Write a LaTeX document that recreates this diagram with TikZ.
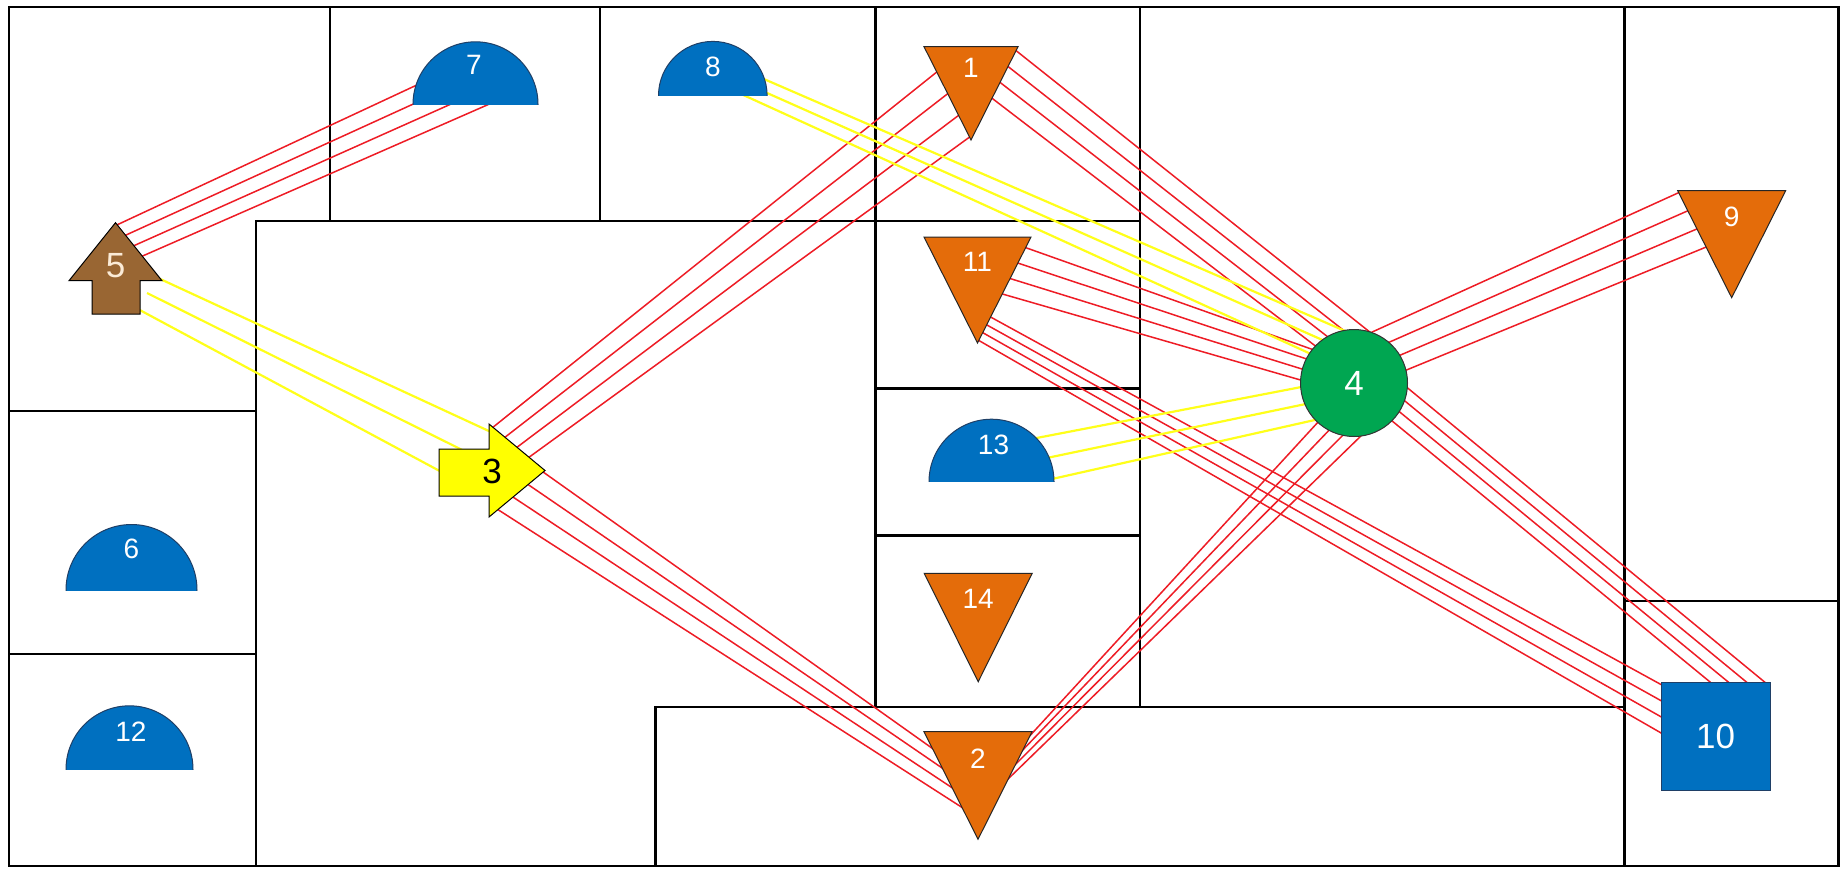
\documentclass[tikz,border=0pt]{standalone}
\usepackage{fontspec}
\setmainfont{Liberation Sans}
\usetikzlibrary{calc}

\definecolor{devblue}{HTML}{0070C0}
\definecolor{devblueline}{HTML}{1F3F66}
\definecolor{devorange}{HTML}{E46C0A}
\definecolor{devgreen}{HTML}{00A651}
\definecolor{devbrown}{HTML}{996633}
\definecolor{devyellow}{HTML}{FFFF00}
\definecolor{linkred}{HTML}{EE1C25}
\definecolor{linkyellow}{HTML}{FFFF1A}
\definecolor{tagcream}{HTML}{FBEBD7}

\pgfdeclarelayer{paper}
\pgfdeclarelayer{walls}
\pgfdeclarelayer{links}
\pgfsetlayers{paper,walls,links,main}

% A set of parallel cable runs between two devices.
% #1 style, #2 fractions, #3 node A, #4/#5 first/last offset at A,
% #6 node B, #7/#8 first/last offset at B
\newcommand\linkset[8]{%
  \path ($(#3)+(#4)$) coordinate (la1) ($(#3)+(#5)$) coordinate (la2)
        ($(#6)+(#7)$) coordinate (lb1) ($(#6)+(#8)$) coordinate (lb2);
  \foreach \lk in {#2} {\draw[#1] ($(la1)!\lk!(la2)$) -- ($(lb1)!\lk!(lb2)$);}%
}
% Half disk sitting on the bottom edge of its anchor box
\newcommand\halfdisk[2]{%
  \begin{scope}
    \clip ($(#1.south west)+(-3,0)$) rectangle ($(#1.north east)+(3,-3)$);
    \path[bluefill] (#1.south) circle[radius=#2];
  \end{scope}}

\begin{document}
\begin{tikzpicture}[x=0.5pt,y=-0.5pt,
  wall/.style={draw=black, line width=1.2pt, line cap=rect},
  redlink/.style={draw=linkred, line width=0.75pt},
  yellink/.style={draw=linkyellow, line width=1.1pt},
  anchorbox/.style={rectangle, inner sep=0pt, outer sep=0pt, draw=none},
  bluefill/.style={fill=devblue, draw=devblueline, line width=0.5pt},
  orangefill/.style={fill=devorange, draw=black!85, line width=0.5pt},
  brownfill/.style={fill=devbrown, draw=black, line width=0.5pt},
  yellowfill/.style={fill=devyellow, draw=black, line width=0.5pt},
  tag/.style={inner sep=0pt, text=white, font=\fontsize{14pt}{14pt}\selectfont},
  bigtag/.style={tag, font=\fontsize{17.5pt}{17.5pt}\selectfont},
]
\useasboundingbox (0,0) rectangle (1840,868);
\begin{pgfonlayer}{paper}
\fill[white] (0,0) rectangle (1840,868);
\end{pgfonlayer}

% ---------- devices ----------
% triangles
\node[anchorbox, minimum width=47pt,   minimum height=46.65pt] (n1)  at (971,93.35) {};
\node[anchorbox, minimum width=53.5pt, minimum height=53pt]    (n11) at (977.5,290) {};
\node[anchorbox, minimum width=54pt,   minimum height=54.2pt]  (n14) at (978.2,627.5) {};
\node[anchorbox, minimum width=54pt,   minimum height=53.8pt]  (n2)  at (978,785.5) {};
\node[anchorbox, minimum width=54pt,   minimum height=53.5pt]  (n9)  at (1731.65,244.2) {};
\foreach \d in {n1,n11,n14,n2,n9}
  \path[orangefill] (\d.north west) -- (\d.north east) -- (\d.south) -- cycle;

% half disks
\node[anchorbox, minimum width=62.5pt, minimum height=31.25pt] (n7)  at (475.5,73.05) {};
\node[anchorbox, minimum width=54.3pt, minimum height=27.15pt] (n8)  at (712.8,68.55) {};
\node[anchorbox, minimum width=65.5pt, minimum height=32.75pt] (n6)  at (131.5,557.25) {};
\node[anchorbox, minimum width=63.5pt, minimum height=31.75pt] (n12) at (129.5,737.55) {};
\node[anchorbox, minimum width=62.5pt, minimum height=31.25pt] (n13) at (991.5,450.45) {};
\halfdisk{n7}{31.25pt}
\halfdisk{n8}{27.15pt}
\halfdisk{n6}{32.75pt}
\halfdisk{n12}{31.75pt}
\halfdisk{n13}{31.25pt}

% arrows
\node[anchorbox, minimum width=46.5pt, minimum height=45.65pt] (n5) at (115.5,268.35) {};
\path[brownfill, shift={(n5.center)}] (0,-45.65) -- (46.5,12.35) -- (24.5,12.35)
  -- (24.5,45.65) -- (-23.5,45.65) -- (-23.5,12.35) -- (-46.5,12.35) -- cycle;
\node[anchorbox, minimum width=53pt, minimum height=46.5pt] (n3) at (492,470.5) {};
\path[yellowfill, shift={(n3.center)}] (-53,-21.5) -- (-3,-21.5) -- (-3,-46.5)
  -- (53,0) -- (-3,46.5) -- (-3,25.5) -- (-53,25.5) -- cycle;

% hub and square
\node[circle, fill=devgreen, draw=black!80, line width=0.5pt, inner sep=0pt,
      minimum size=53.5pt, text=white, font=\fontsize{17.5pt}{17.5pt}\selectfont] (n4) at (1354,383) {4};
\node[rectangle, fill=devblue, draw=devblueline, line width=0.5pt, inner sep=0pt,
      minimum width=54.6pt, minimum height=54.2pt, text=white,
      font=\fontsize{17.5pt}{17.5pt}\selectfont] (n10) at (1715.6,736.5) {10};

% labels
\node[tag] (t1)  at ($(n1)+(0,-25)$) {1};
\node[tag] (t11) at ($(n11)+(0,-28)$) {11};
\node[tag] (t14) at ($(n14)+(0,-29)$) {14};
\node[tag] (t2)  at ($(n2)+(0,-27)$) {2};
\node[tag] (t9)  at ($(n9)+(0,-27.5)$) {9};
\node[tag] (t7)  at ($(n7)+(-1.5,-8)$) {7};
\node[tag] (t8)  at ($(n8)+(0,-2)$) {8};
\node[tag] (t6)  at ($(n6)+(0,-8.5)$) {6};
\node[tag] (t12) at ($(n12)+(1.5,-6)$) {12};
\node[tag] (t13) at ($(n13)+(2,-6)$) {13};
\node[bigtag, text=tagcream] (t5) at ($(n5)+(0,-3)$) {5};
\node[bigtag, text=black] (t3) at ($(n3)+(0,1)$) {3};

% ---------- walls ----------
\begin{pgfonlayer}{walls}
\draw[wall] (8.7,7) rectangle (1838.3,866);
\draw[wall] (330,7) -- (330,220.7);
\draw[wall] (600,7) -- (600,220.7);
\draw[wall] (875.5,7) -- (875.5,707);
\draw[wall] (1140,7) -- (1140,707);
\draw[wall] (1624.5,7) -- (1624.5,866);
\draw[wall] (256,866) -- (256,220.7) -- (1140,220.7);
\draw[wall] (8.7,410.7) -- (256,410.7);
\draw[wall] (8.7,654) -- (256,654);
\draw[wall] (875.5,388.3) -- (1140,388.3);
\draw[wall] (875.5,535.3) -- (1140,535.3);
\draw[wall] (655.4,866) -- (655.4,707) -- (1624.5,707);
\draw[wall] (1624.5,600.7) -- (1838.3,600.7);
\end{pgfonlayer}

% ---------- cable runs ----------
\begin{pgfonlayer}{links}
\linkset{redlink}{0,0.3333,0.6667,1}{n5}{0.5,-43}{25.5,-11.65}{n7}{-56.5,10.95}{18.5,28.95}
\linkset{yellink}{0,0.5,1}{n5}{42.5,9.65}{20.5,39.65}{n3}{-1,-38.5}{-51,1.2}
\linkset{redlink}{0,0.3333,0.6667,1}{n3}{0,-42.5}{36,-12.5}{n1}{-33,-22.35}{0,42.65}
\linkset{redlink}{0,0.3333,0.6667,1}{n3}{49,0}{5,38.5}{n2}{-41,-33.8}{-12,24.5}
\linkset{redlink}{0,0.3333,0.6667,1}{n1}{43,-44.35}{19,3.35}{n4}{17,-50}{-36,-35}
\linkset{redlink}{0,0.3333,0.6667,1}{n11}{45.5,-43.3}{22.5,3.3}{n4}{-40,-33}{-50,-2}
\linkset{redlink}{0,0.3333,0.6667,1}{n11}{12.5,26.7}{0.5,50}{n10}{-51,-50}{-51,-1.5}
\linkset{redlink}{0,0.3333,0.6667,1}{n4}{50,2}{36.3,36.5}{n10}{52,-52}{-2.5,-52}
\linkset{redlink}{0,0.3333,0.6667,1}{n4}{16,-50}{50,-12}{n9}{-52,-52}{-24.7,2.5}
\linkset{redlink}{0,0.3333,0.6667,1}{n4}{-35,38}{11,49}{n2}{51,-48.8}{29,-5.5}
\linkset{yellink}{0,0.5,1}{n8}{50,10}{29.5,26}{n4}{-2,-49}{-43,-29}
\linkset{yellink}{0,0.5,1}{n13}{43.5,-12.15}{60.5,28.55}{n4}{-50,3.5}{-37,36.5}
\end{pgfonlayer}
\end{tikzpicture}
\end{document}
